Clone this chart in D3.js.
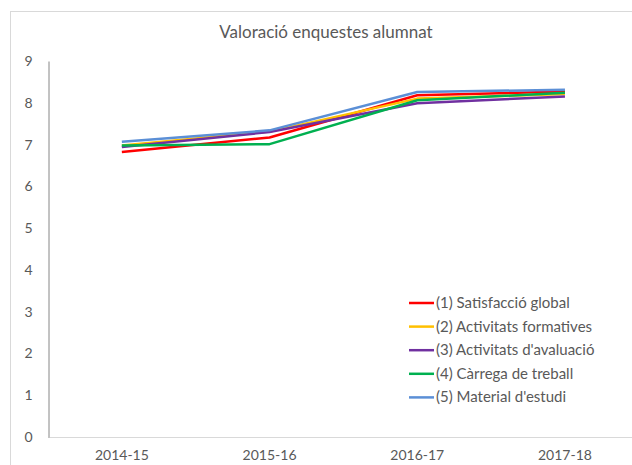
<!DOCTYPE html>
<html>
<head>
<meta charset="utf-8">
<script src="https://cdn.jsdelivr.net/npm/d3@7"></script>
<style>
  body { margin: 0; background: #fff; }
  text { font-family: Lato, "Open Sans", sans-serif; fill: #595959; }
</style>
</head>
<body>
<svg id="chart" width="632" height="465"></svg>
<script>
const title = 'Valoració enquestes alumnat'
const years = ['2014-15', '2015-16', '2016-17', '2017-18']
const seriesNames = [
  '(1) Satisfacció global',
  '(2) Activitats formatives',
  '(3) Activitats d\'avaluació',
  '(4) Càrrega de treball',
  '(5) Material d\'estudi'
]
const satisfaccio = [6.82, 7.17, 8.18, 8.27]
const formatives = [6.98, 7.31, 8.10, 8.21]
const avaluacio = [6.94, 7.30, 7.99, 8.15]
const carrega = [6.98, 7.01, 8.06, 8.24]
const material = [7.07, 7.34, 8.26, 8.31]
const yTicks = [0, 1, 2, 3, 4, 5, 6, 7, 8, 9]
const colors = ['#ff0000', '#ffc000', '#7030a0', '#00b050', '#5b8fd6']

const values = [satisfaccio, formatives, avaluacio, carrega, material]
const margin = { top: 61, left: 48, bottom: 28 }
const svg = d3.select('#chart')
const W = 632, H = 465

// outer chart border
svg.append('rect').attr('x', 10.5).attr('y', 11.5)
  .attr('width', W).attr('height', H)
  .attr('fill', 'none').attr('stroke', '#d9d9d9')

svg.append('text').attr('x', 326).attr('y', 38)
  .attr('text-anchor', 'middle').style('font-size', '17px')
  .text(title)

const plotBottom = 437
const x = d3.scaleBand().domain(years).range([margin.left, margin.left + 4 * 147.7])
const y = d3.scaleLinear().domain([0, 9]).range([plotBottom, margin.top])

// x axis baseline
svg.append('line').attr('x1', margin.left).attr('x2', W)
  .attr('y1', plotBottom + 0.5).attr('y2', plotBottom + 0.5)
  .attr('stroke', '#d9d9d9')

// y axis
const yAxis = svg.append('g').attr('transform', `translate(${margin.left + 0.5},0)`)
  .call(d3.axisLeft(y).tickValues(yTicks).tickSize(0).tickPadding(16))
yAxis.select('.domain').attr('stroke', '#868686')
yAxis.selectAll('text').style('font-size', '14px').attr('fill', '#595959')

const xAxis = svg.append('g').attr('transform', `translate(0,${plotBottom})`)
  .call(d3.axisBottom(x).tickSize(0).tickPadding(13))
xAxis.select('.domain').remove()
xAxis.selectAll('text').style('font-size', '14px').attr('fill', '#595959')

const line = d3.line()
  .x((d, i) => x(years[i]) + x.bandwidth() / 2)
  .y(d => y(d))

values.forEach((v, i) => {
  svg.append('path').datum(v)
    .attr('d', line)
    .attr('fill', 'none')
    .attr('stroke', colors[i])
    .attr('stroke-width', 2.5)
    .attr('stroke-linejoin', 'round')
})

// legend
const legend = svg.append('g').attr('transform', 'translate(409,303)')
seriesNames.forEach((name, i) => {
  const g = legend.append('g').attr('transform', `translate(0,${i * 23.6})`)
  g.append('line').attr('x1', 0).attr('x2', 25)
    .attr('stroke', colors[i]).attr('stroke-width', 2.5)
  g.append('text').attr('x', 27).attr('y', 5)
    .style('font-size', '15px').text(name)
})
</script>
</body>
</html>
